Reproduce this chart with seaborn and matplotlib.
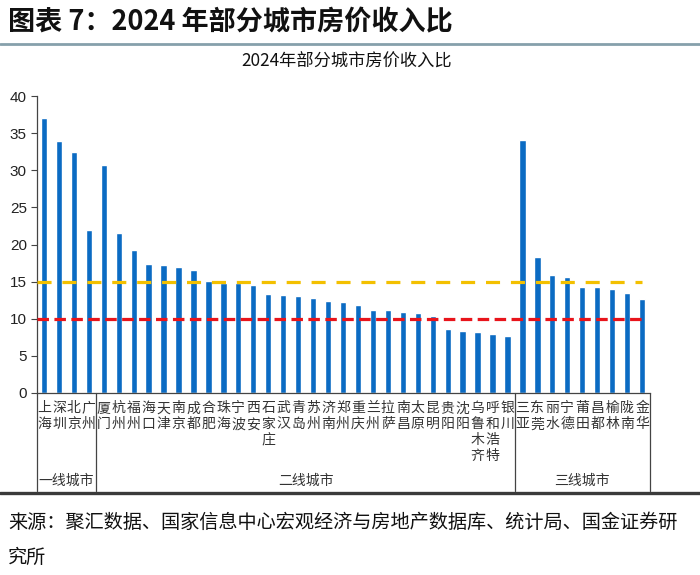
import matplotlib
matplotlib.use("Agg")
import matplotlib.pyplot as plt
import matplotlib.transforms as mtransforms
from matplotlib.lines import Line2D
import seaborn as sns
import pandas as pd

# ---------------- data ----------------
tier1_cities = ["上海", "深圳", "北京", "广州"]
tier1_values = [37.0, 33.9, 32.5, 22.0]

tier2_cities = ["厦门", "杭州", "福州", "海口", "天津", "南京", "成都", "合肥", "珠海",
                "宁波", "西安", "石家庄", "武汉", "青岛", "苏州", "济南", "郑州", "重庆",
                "兰州", "拉萨", "南昌", "太原", "昆明", "贵阳", "沈阳", "乌鲁木齐",
                "呼和浩特", "银川"]
tier2_values = [30.7, 21.5, 19.3, 17.4, 17.3, 17.0, 16.6, 15.1, 14.8,
                14.8, 14.5, 13.3, 13.2, 13.1, 12.8, 12.4, 12.3, 11.9,
                11.2, 11.15, 10.85, 10.8, 10.4, 8.6, 8.35, 8.25,
                8.0, 7.7]

tier3_cities = ["三亚", "东莞", "丽水", "宁德", "莆田", "昌都", "榆林", "陇南", "金华"]
tier3_values = [34.1, 18.25, 15.9, 15.6, 14.3, 14.25, 14.05, 13.5, 12.6]

group_names = ["一线城市", "二线城市", "三线城市"]
y_ticks = [0, 5, 10, 15, 20, 25, 30, 35, 40]
line_upper = 15
line_lower = 10

main_title = "图表 7：2024 年部分城市房价收入比"
chart_title = "2024年部分城市房价收入比"
source_line1 = "来源：聚汇数据、国家信息中心宏观经济与房地产数据库、统计局、国金证券研"
source_line2 = "究所"

# ---------------- style ----------------
sns.set_theme(style="white")
plt.rcParams['font.family'] = ['Noto Sans CJK SC', 'DejaVu Sans']

BLUE = "#0B6BC3"
GOLD = "#F3C000"
RED = "#E8141B"
W, H = 700, 575

cities = tier1_cities + tier2_cities + tier3_cities
values = tier1_values + tier2_values + tier3_values
df = pd.DataFrame({"city": cities, "ratio": values})

fig = plt.figure(figsize=(7, 5.75), dpi=100)
ax = fig.add_axes([36.5 / W, 1 - 393 / H, 613 / W, 297 / H])

sns.barplot(data=df, x="city", y="ratio", color=BLUE, saturation=1,
            width=0.42, ax=ax, errorbar=None)

n = len(cities)
ax.set_xlim(-0.5, n - 0.5)
ax.set_ylim(0, 40)
ax.set_yticks(y_ticks)
ax.set_yticklabels([str(t) for t in y_ticks], fontfamily="Liberation Sans",
                   fontsize=11, color="#222222")
ax.tick_params(axis="y", which="major", left=True, length=4, width=0.8,
               color="#444444", pad=3)
ax.set_xlabel("")
ax.set_ylabel("")

# vertical city labels
ax.set_xticks(range(n))
ax.set_xticklabels(["\n".join(c) for c in cities], fontsize=10, color="#333333",
                   va="top")
for lbl in ax.get_xticklabels():
    lbl.set_linespacing(1.18)
ax.tick_params(axis="x", bottom=False, length=0, pad=6)

for s in ["top", "right"]:
    ax.spines[s].set_visible(False)
for s in ["left", "bottom"]:
    ax.spines[s].set_color("#444444")
    ax.spines[s].set_linewidth(0.9)

# reference lines
ax.plot([-0.5, n - 1], [line_upper, line_upper], color=GOLD, lw=2.3,
        linestyle=(0, (4.4, 3.4)), zorder=3)
ax.plot([-0.5, n - 1], [line_lower, line_lower], color=RED, lw=2.3,
        linestyle=(0, (3.6, 1.7)), zorder=3)

# group brackets
trans = mtransforms.blended_transform_factory(ax.transData, ax.transAxes)
b1 = len(tier1_cities) - 0.5
b2 = b1 + len(tier2_cities)
b3 = b2 + len(tier3_cities)
bottom_frac = (393 - 491) / 297
for xb in [-0.5, b1, b2, b3]:
    ax.add_line(Line2D([xb, xb], [0, bottom_frac], transform=trans,
                       color="#444444", lw=0.9, clip_on=False))
label_y = (393 - 481) / 297
centers = [(-0.5 + b1) / 2, (b1 + b2) / 2, (b2 + b3) / 2]
for name, cx in zip(group_names, centers):
    ax.text(cx, label_y, name, transform=trans, ha="center", va="center",
            fontsize=10, color="#333333")

# figure titles / decorations
fig.text(8 / W, 1 - 22 / H, main_title, fontsize=19.5, fontweight="bold",
         ha="left", va="center", color="#111111")
fig.add_artist(Line2D([0, 1], [1 - 44 / H, 1 - 44 / H], transform=fig.transFigure,
                      color="#86A0AB", lw=2.0))
fig.text(347 / W, 1 - 62 / H, chart_title, fontsize=12.4, ha="center", va="center",
         color="#111111")
fig.add_artist(Line2D([0, 1], [1 - 493 / H, 1 - 493 / H], transform=fig.transFigure,
                      color="#3A3A3A", lw=2.4))
fig.text(8 / W, 1 - 522 / H, source_line1, fontsize=13.8, ha="left", va="center",
         color="#111111")
fig.text(8 / W, 1 - 557 / H, source_line2, fontsize=13.8, ha="left", va="center",
         color="#111111")

fig.savefig("out.png", dpi=100)
